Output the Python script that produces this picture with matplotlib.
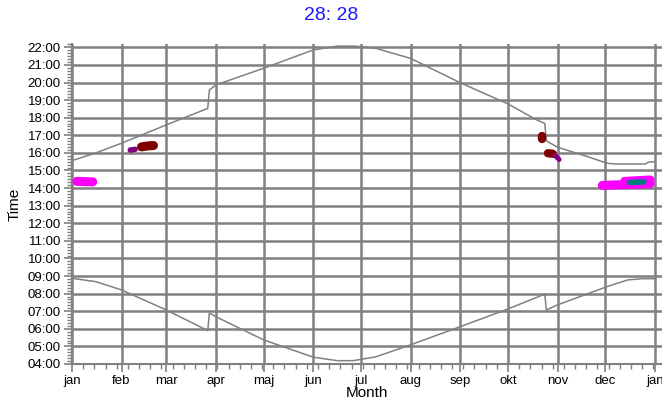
import matplotlib.pyplot as plt
from matplotlib.ticker import MultipleLocator, FixedLocator

plt.rcParams['font.family'] = ['Liberation Sans', 'DejaVu Sans']

month_starts = [0, 31, 59, 90, 120, 151, 181, 212, 243, 273, 304, 334, 365]
month_labels = ['jan', 'feb', 'mar', 'apr', 'maj', 'jun', 'jul', 'aug', 'sep', 'okt', 'nov', 'dec', 'jan']
hour_ticks = list(range(4, 23))

# sunset / sunrise (day of year, hour)
sunset_days = [0, 15, 31, 59, 85, 86, 90, 120, 151, 166, 177, 190, 212, 243, 273, 291, 296, 297, 304, 323, 335, 340, 359, 361, 365]
sunset_time = [15.56, 16.0, 16.55, 17.59, 18.53, 19.57, 19.86, 20.81, 21.85, 22.07, 22.07, 21.95, 21.37, 19.99, 18.78, 17.87, 17.68, 16.68, 16.32, 15.78, 15.41, 15.37, 15.37, 15.48, 15.5]
sunrise_days = [0, 15, 31, 59, 85, 86, 90, 120, 151, 166, 176, 190, 212, 243, 273, 296, 297, 304, 335, 348, 357, 365]
sunrise_time = [8.87, 8.68, 8.21, 7.07, 5.9, 6.9, 6.69, 5.37, 4.39, 4.19, 4.19, 4.4, 5.09, 6.12, 7.13, 7.97, 7.07, 7.36, 8.4, 8.78, 8.85, 8.85]

# observations, as (days, hours) runs
jan_days = [3, 8, 13]
jan_time = [14.38, 14.37, 14.35]
feb_purple_days = [36.5, 39.5]
feb_purple_time = [16.16, 16.2]
feb_red_days = [43.5, 47, 51]
feb_red_time = [16.34, 16.39, 16.42]
oct_red_days = [294, 294]
oct_red_time = [16.98, 16.8]
oct_red2_days = [298, 301]
oct_red2_time = [15.98, 15.95]
nov_purple_days = [302.5, 305]
nov_purple_time = [15.85, 15.62]
dec_days = [332, 340, 348, 356, 362]
dec_time = [14.15, 14.18, 14.2, 14.23, 14.25]
dec2_days = [346, 354, 362]
dec2_time = [14.38, 14.42, 14.46]
teal_days = [349, 358]
teal_time = [14.32, 14.35]

grey = '#808080'
fig = plt.figure(figsize=(6.62, 4.05), dpi=100)
ax = fig.add_axes([72 / 662, 41 / 405, 590 / 662, 320.2 / 405])

ax.plot(sunset_days, sunset_time, color=grey, lw=1.1, zorder=3)
ax.plot(sunrise_days, sunrise_time, color=grey, lw=1.1, zorder=3)

blob = dict(solid_capstyle='round', solid_joinstyle='round', zorder=4)
ax.plot(jan_days, jan_time, color='#ff00ff', lw=6.5, **blob)
ax.plot(feb_purple_days, feb_purple_time, color='#800080', lw=4, **blob)
ax.plot(feb_red_days, feb_red_time, color='#800000', lw=6.5, **blob)
ax.plot(oct_red_days, oct_red_time, color='#800000', lw=6, **blob)
ax.plot(oct_red2_days, oct_red2_time, color='#800000', lw=6, **blob)
ax.plot(nov_purple_days, nov_purple_time, color='#800080', lw=3.5, **blob)
ax.plot(dec_days, dec_time, color='#ff00ff', lw=6.5, **blob)
ax.plot(dec2_days, dec2_time, color='#ff00ff', lw=6.5, **blob)
ax.plot(teal_days, teal_time, color='#008080', lw=4, solid_capstyle='round', zorder=5)

ax.set_xlim(0, 369.4)
ax.set_ylim(4, 22.2)
ax.xaxis.set_major_locator(FixedLocator(month_starts))
ax.set_xticklabels(month_labels)
ax.xaxis.set_minor_locator(MultipleLocator(7))
ax.yaxis.set_major_locator(FixedLocator(hour_ticks))
ax.set_yticklabels(['%02d:00' % h for h in hour_ticks])
ax.yaxis.set_minor_locator(MultipleLocator(1 / 6))

ax.grid(True, which='major', color=grey, lw=1.8, zorder=1)
for side in ['top', 'right']:
    ax.spines[side].set_visible(False)
for side in ['left', 'bottom']:
    ax.spines[side].set_color(grey)
    ax.spines[side].set_linewidth(1.5)
ax.tick_params(which='major', direction='out', color=grey, length=6, width=1.2, labelsize=9.5, pad=2)
ax.tick_params(which='minor', direction='out', color=grey, length=3.5, width=1.0)

ax.set_xlabel('Month', fontsize=11, labelpad=-1)
ax.set_ylabel('Time', fontsize=11, labelpad=4)
fig.text(0.5, 1 - 15 / 405, '28: 28', color='#1a1aff', fontsize=14, ha='center', va='center')

fig.savefig('out.png', dpi=100)
